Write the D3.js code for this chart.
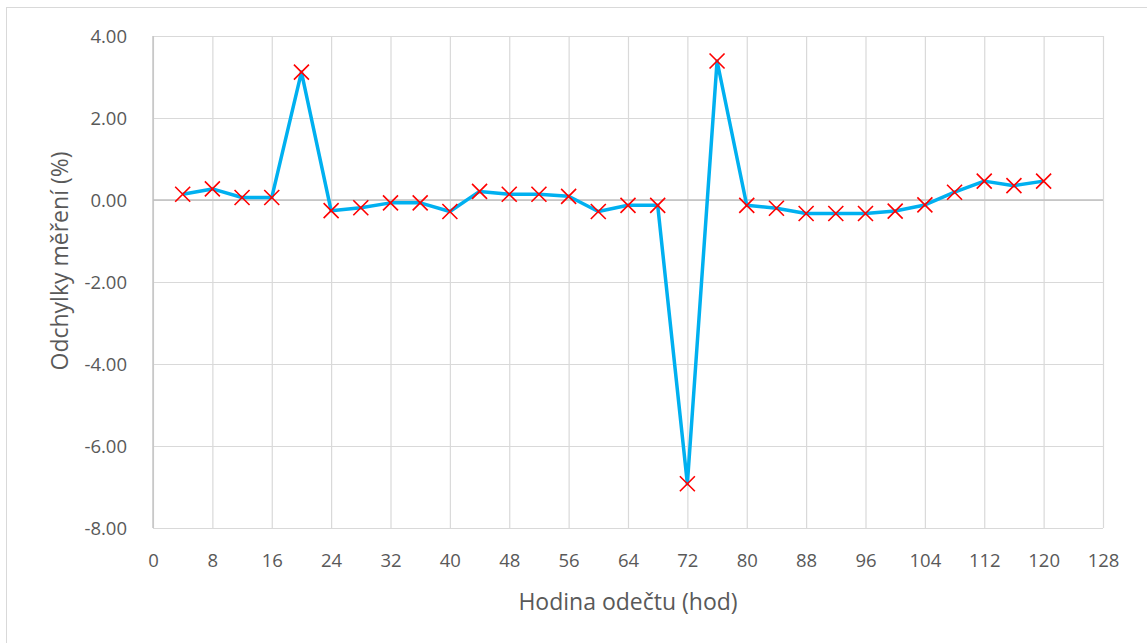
<!DOCTYPE html>
<html><head><meta charset="utf-8">
<script src="https://cdn.jsdelivr.net/npm/d3@7"></script>
<style>body{margin:0;background:#fff}svg{display:block}</style>
</head><body>
<svg id="c" width="1147" height="643"></svg>
<script>
const hours = [4,8,12,16,20,24,28,32,36,40,44,48,52,56,60,64,68,72,76,80,84,88,92,96,100,104,108,112,116,120];
const deviations = [0.14,0.27,0.06,0.06,3.12,-0.26,-0.19,-0.07,-0.07,-0.28,0.21,0.14,0.14,0.09,-0.28,-0.13,-0.13,-6.92,3.39,-0.13,-0.20,-0.33,-0.33,-0.33,-0.27,-0.12,0.19,0.46,0.35,0.46];
const xTicks = [0,8,16,24,32,40,48,56,64,72,80,88,96,104,112,120,128];
const yTicks = [4,2,0,-2,-4,-6,-8];
const xTitle = "Hodina odečtu (hod)";
const yTitle = "Odchylky měření (%)";

const svg = d3.select("#c");
const font = "'Open Sans', sans-serif";
const L=153, R=1103, T=36, B=528;
const x = d3.scaleLinear().domain([0,128]).range([L,R]);
const y = d3.scaleLinear().domain([-8,4]).range([B,T]);

svg.append("rect").attr("x",6.5).attr("y",7.5).attr("width",1160).attr("height",660)
  .attr("fill","#fff").attr("stroke","#d9d9d9").attr("stroke-width",1);

// gridlines
const gx = svg.append("g").attr("transform",`translate(0,${B})`)
  .call(d3.axisBottom(x).tickValues(xTicks).tickSize(-(B-T)).tickFormat(""));
gx.select(".domain").remove();
gx.selectAll("line").attr("stroke","#d9d9d9").attr("stroke-width",1.2);
const gy = svg.append("g").attr("transform",`translate(${L},0)`)
  .call(d3.axisLeft(y).tickValues(yTicks).tickSize(-(R-L)).tickFormat(""));
gy.select(".domain").remove();
gy.selectAll("line").attr("stroke","#d9d9d9").attr("stroke-width",1.2);
svg.append("line").attr("x1",L).attr("x2",R).attr("y1",y(0)).attr("y2",y(0)).attr("stroke","#bfbfbf").attr("stroke-width",1.3);
svg.append("line").attr("x1",L).attr("x2",L).attr("y1",T).attr("y2",B).attr("stroke","#bfbfbf").attr("stroke-width",1.3);

// tick labels
const xl = svg.append("g").attr("transform",`translate(0,${B+18})`)
  .call(d3.axisBottom(x).tickValues(xTicks).tickSize(0).tickFormat(d=>d));
xl.select(".domain").remove();
xl.selectAll("text").attr("font-family",font).attr("font-size",18.5).attr("fill","#595959").attr("dy","0.95em");
const yl = svg.append("g").attr("transform",`translate(${L-23},0)`)
  .call(d3.axisLeft(y).tickValues(yTicks).tickSize(0).tickFormat(d=>d3.format(".2f")(d).replace("\u2212","-")));
yl.select(".domain").remove();
yl.selectAll("text").attr("font-family",font).attr("font-size",18.5).attr("fill","#595959").attr("dy","0.35em");

svg.append("text").attr("x",(L+R)/2).attr("y",610).attr("text-anchor","middle")
  .attr("font-family",font).attr("font-size",23).attr("fill","#595959").text(xTitle);
svg.append("text").attr("transform",`translate(68,261) rotate(-90)`).attr("text-anchor","middle")
  .attr("font-family",font).attr("font-size",23).attr("fill","#595959").text(yTitle);

const data = hours.map((h,i)=>({h,v:deviations[i]}));
svg.append("path").datum(data)
  .attr("d",d3.line().x(d=>x(d.h)).y(d=>y(d.v)))
  .attr("fill","none").attr("stroke","#00B0F0").attr("stroke-width",3.5).attr("stroke-linejoin","round");

const s=7.5;
svg.append("g").selectAll("path").data(data).join("path")
  .attr("d",d=>{const cx=x(d.h), cy=y(d.v);return `M${cx-s},${cy-s}L${cx+s},${cy+s}M${cx-s},${cy+s}L${cx+s},${cy-s}`;})
  .attr("stroke","#ff0000").attr("stroke-width",1.6).attr("fill","none");
</script>
</body></html>
